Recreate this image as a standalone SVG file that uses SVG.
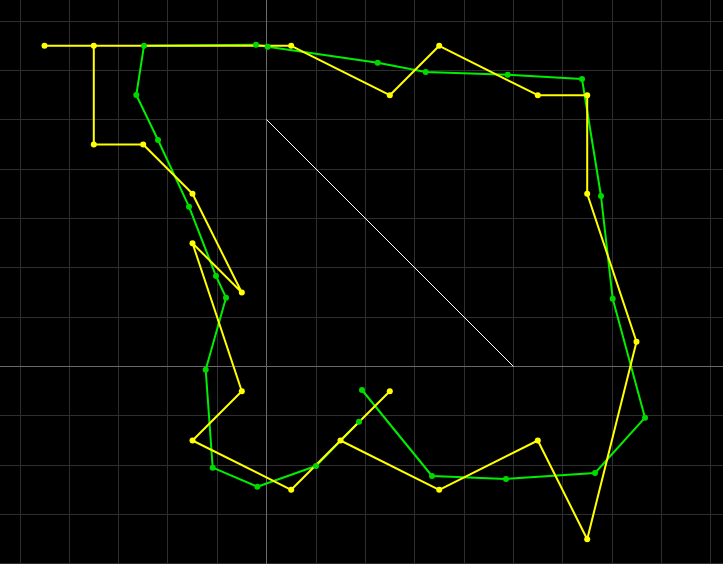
<svg xmlns="http://www.w3.org/2000/svg" width="723" height="564" viewBox="0 0 723 564">
<style>
.g{stroke:#2e2e2e;stroke-width:1}
.ax{stroke:#6a6a6a;stroke-width:1}
.gr{fill:none;stroke:#00ee00;stroke-width:2;stroke-linejoin:round}
.ye{fill:none;stroke:#ffff00;stroke-width:2;stroke-linejoin:round}
.gd{fill:#00d800}
.yd{fill:#ffff00}
</style>
<rect width="723" height="564" fill="#000"/>
<g id="grid">
<path class="g" d="M20.5 0V564M69.5 0V564M118.5 0V564M167.5 0V564M217.5 0V564M316.5 0V564M365.5 0V564M414.5 0V564M464.5 0V564M513.5 0V564M562.5 0V564M612.5 0V564M661.5 0V564M710.5 0V564"/>
<path class="g" d="M0 21.5H723M0 70.5H723M0 119.5H723M0 169.5H723M0 218.5H723M0 267.5H723M0 317.5H723M0 415.5H723M0 465.5H723M0 514.5H723M0 563.5H723"/>
<path class="ax" d="M266.5 0V564M0 366.5H723"/>
<path d="M266.5 119.5L513.5 366.5" stroke="#fff" stroke-width="1"/>
</g>
<g id="connectors">
<polyline id="green-path" class="gr" points="362,390 432,476 506,479 595,473 645,417.7 612.7,298.7 601,196 582,79 507.7,74.7 425.7,72 377.7,62.7 267.7,46.7 256,44.7 144,45.7 136.3,95 158,140 189,206.7 216,276 226,297.7 205.7,369.7 212.7,467.7 257.3,486.7 316,466 359,421.7"/>
<path id="yellow-path" class="ye" d="M44.5 45.8H291.2M93.8 45.8V144.5H143.2L192.5 193.8L241.8 292.5L192.5 243.2L241.8 391.2L192.5 440.5L291.2 489.8L340.5 440.5L389.8 391.2M340.5 440.5L439.2 489.8L537.8 440.5L587.2 539.2L636.5 341.8L587.2 193.8V95.2H537.8L439.2 45.8L389.8 95.2L291.2 45.8"/>
</g>
<g id="green-nodes" class="gd">
<circle cx="362" cy="390" r="3"/><circle cx="432" cy="476" r="3"/><circle cx="506" cy="479" r="3"/><circle cx="595" cy="473" r="3"/><circle cx="645" cy="417.7" r="3"/><circle cx="612.7" cy="298.7" r="3"/><circle cx="601" cy="196" r="3"/><circle cx="582" cy="79" r="3"/><circle cx="507.7" cy="74.7" r="3"/><circle cx="425.7" cy="72" r="3"/><circle cx="377.7" cy="62.7" r="3"/><circle cx="267.7" cy="46.7" r="3"/><circle cx="256" cy="44.7" r="3"/><circle cx="144" cy="45.7" r="3"/><circle cx="136.3" cy="95" r="3"/><circle cx="158" cy="140" r="3"/><circle cx="189" cy="206.7" r="3"/><circle cx="216" cy="276" r="3"/><circle cx="226" cy="297.7" r="3"/><circle cx="205.7" cy="369.7" r="3"/><circle cx="212.7" cy="467.7" r="3"/><circle cx="257.3" cy="486.7" r="3"/><circle cx="316" cy="466" r="3"/><circle cx="359" cy="421.7" r="3"/>
</g>
<g id="yellow-nodes" class="yd">
<circle cx="44.5" cy="45.8" r="3"/><circle cx="93.8" cy="45.8" r="3"/><circle cx="93.8" cy="144.5" r="3"/><circle cx="143.2" cy="144.5" r="3"/><circle cx="192.5" cy="193.8" r="3"/><circle cx="241.8" cy="292.5" r="3"/><circle cx="192.5" cy="243.2" r="3"/><circle cx="241.8" cy="391.2" r="3"/><circle cx="192.5" cy="440.5" r="3"/><circle cx="291.2" cy="489.8" r="3"/><circle cx="340.5" cy="440.5" r="3"/><circle cx="389.8" cy="391.2" r="3"/><circle cx="439.2" cy="489.8" r="3"/><circle cx="537.8" cy="440.5" r="3"/><circle cx="587.2" cy="539.2" r="3"/><circle cx="636.5" cy="341.8" r="3"/><circle cx="587.2" cy="193.8" r="3"/><circle cx="587.2" cy="95.2" r="3"/><circle cx="537.8" cy="95.2" r="3"/><circle cx="439.2" cy="45.8" r="3"/><circle cx="389.8" cy="95.2" r="3"/><circle cx="291.2" cy="45.8" r="3"/>
</g>
</svg>
